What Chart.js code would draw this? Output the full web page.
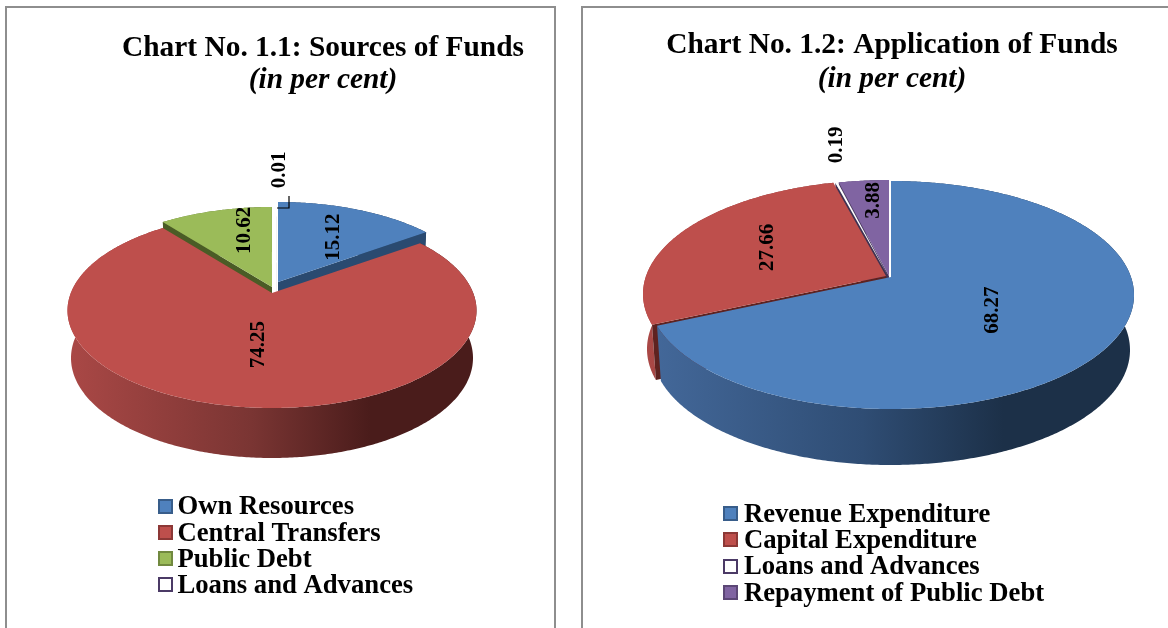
<!DOCTYPE html>
<html><head><meta charset="utf-8">
<style>
html,body{margin:0;padding:0;background:#fff;width:1168px;height:628px;overflow:hidden}
canvas{position:absolute;top:0}
.panel{position:absolute;border:2px solid #8e8e8e;border-bottom:none;box-sizing:border-box}
</style>
<script src="https://cdn.jsdelivr.net/npm/chart.js@4"></script>
</head><body>
<div class="panel" style="left:5px;top:6px;width:551px;height:640px"></div>
<div class="panel" style="left:581px;top:6px;width:640px;height:640px"></div>
<canvas id="c1" width="646" height="628" style="left:0"></canvas>
<canvas id="c2" width="552" height="628" style="left:616px"></canvas>
<script>
// ---- data ----
const sourceCategories = ['Own Resources','Central Transfers','Public Debt','Loans and Advances'];
const sourceValues = [15.12,74.25,10.62,0.01];
const applicationCategories = ['Revenue Expenditure','Capital Expenditure','Loans and Advances','Repayment of Public Debt'];
const applicationValues = [68.27,27.66,0.19,3.88];

// ---- styling ----
const FONT = '"Liberation Serif","Times New Roman",serif';
const blue={top:'#4F81BD',edge:'#385D8A',side:'#2A4A70',wall:['#44699B','#2F4D74','#1C3048']};
const red={top:'#BE4F4C',edge:'#8C3836',side:'#5E2220',wall:['#AA4846','#7A3533','#4A1C1B']};
const green={top:'#9BBB59',edge:'#71893F',side:'#4A5C26',wall:['#7A9446','#5A6E33','#3E4D22']};
const purple={top:'#8064A2',edge:'#5C4776',side:'#4A3A60',wall:['#6A5388','#4F3E66','#3A2D4B']};
const hollow={top:'#FFFFFF',edge:'#4B3A66',side:'#3F3151',wall:['#FFFFFF','#FFFFFF','#FFFFFF']};

const config1={
  canvasLeft:0,
  top:{cx:272,cy:304.5,rx:204.5,ry:97.5,d:-0.18},
  low:{cx:272,cy:352,rx:201,ry:100,d:-0.18},
  looks:[blue,red,green,hollow],
  shiftX:[6,0,0,5], shiftY:[-5,6,0,-2],
  paintOrder:[3,0,2,1],
  nudgeX:[5,6,9,3], nudgeY:[1,-11,-8,-64],
  leader:[[277,208],[289,208],[289,196]],
  titlePad:{top:34,bottom:2},
  legendX:158, legendY:[499,525,551,577], legendTop:494.5, legendLeft:158.5
};
const config2={
  canvasLeft:616,
  top:{cx:887,cy:294,rx:243,ry:114,d:-0.158},
  low:{cx:887,cy:349,rx:239,ry:115,d:-0.158},
  looks:[blue,red,hollow,purple],
  shiftX:[4,-1,1,2], shiftY:[1,0,0,0],
  paintOrder:[3,2,1,0],
  nudgeX:[-26,6,-19,1], nudgeY:[-5,-1,-72,-15],
  leader:null,
  titlePad:{top:31,bottom:4},
  legendX:723, legendY:[506,532,559,585], legendTop:502, legendLeft:725
};

function project(g,theta,r,ox,oy){
  const x=r*Math.sin(theta), y=-r*Math.cos(theta), den=1+g.d*y, s=Math.sqrt(1-g.d*g.d);
  return [g.cx+g.rx*s*x/den+ox, g.cy+g.ry*(y+g.d)/den+oy];
}
function trace(ctx,pts){ctx.beginPath();pts.forEach((p,i)=>i?ctx.lineTo(p[0],p[1]):ctx.moveTo(p[0],p[1]));ctx.closePath();}
function rimPoints(g,a,b,ox,oy){
  const n=Math.max(2,Math.ceil((b-a)/0.01)),out=[];
  for(let i=0;i<=n;i++)out.push(project(g,a+(b-a)*i/n,1,ox,oy));
  return out;
}

const pie3d={
  id:'pie3d',
  beforeDatasetDraw(){return false;},
  afterDatasetsDraw(chart,args,cfg){
    const ctx=chart.ctx, arcs=chart.getDatasetMeta(0).data, vals=chart.data.datasets[0].data;
    ctx.save();ctx.translate(-cfg.canvasLeft,0);
    cfg.paintOrder.forEach(i=>{
      const a=arcs[i].startAngle+Math.PI/2,b=arcs[i].endAngle+Math.PI/2,ox=cfg.shiftX[i],oy=cfg.shiftY[i],k=cfg.looks[i];
      const ct=project(cfg.top,0,0,ox,oy),cl=project(cfg.low,0,0,ox,oy);
      // curved wall
      const up=rimPoints(cfg.top,a,b,ox,oy),dn=rimPoints(cfg.low,a,b,ox,oy).reverse();
      const g=ctx.createLinearGradient(cfg.top.cx-cfg.top.rx,0,cfg.top.cx+cfg.top.rx,0);
      g.addColorStop(0,k.wall[0]);g.addColorStop(0.45,k.wall[1]);g.addColorStop(0.74,k.wall[2]);g.addColorStop(1,k.wall[2]);
      trace(ctx,up.concat(dn));ctx.fillStyle=g;ctx.fill();
      // radial side faces that turn towards the viewer
      [[a,Math.sin(a)<0],[b,Math.sin(b)>0]].forEach(([t,visible])=>{
        if(!visible)return;
        trace(ctx,[ct,project(cfg.top,t,1,ox,oy),project(cfg.low,t,1,ox,oy),cl]);
        ctx.fillStyle=k.side;ctx.fill();
      });
      // top face
      trace(ctx,[ct].concat(up));
      ctx.fillStyle=k.top;ctx.fill();
      if(k===hollow){ctx.strokeStyle=k.edge;ctx.lineWidth=1;ctx.stroke();}
    });
    // value labels
    ctx.fillStyle='#000';ctx.font='bold 21px '+FONT;ctx.textAlign='center';ctx.textBaseline='middle';
    vals.forEach((v,i)=>{
      const mid=(arcs[i].startAngle+arcs[i].endAngle)/2+Math.PI/2;
      const p=project(cfg.top,mid,0.6,cfg.shiftX[i]+cfg.nudgeX[i],cfg.shiftY[i]+cfg.nudgeY[i]);
      ctx.save();ctx.translate(p[0],p[1]);ctx.rotate(-Math.PI/2);ctx.fillText(v.toFixed(2),0,0);ctx.restore();
    });
    if(cfg.leader){
      ctx.strokeStyle='#000';ctx.lineWidth=1.2;ctx.beginPath();
      cfg.leader.forEach((p,i)=>i?ctx.lineTo(p[0],p[1]):ctx.moveTo(p[0],p[1]));ctx.stroke();
    }
    ctx.restore();
  },
  afterLayout(chart,args,cfg){
    // move the library's legend under the pie
    const L=chart.legend;
    L.left=cfg.legendLeft-cfg.canvasLeft;
    L.width=chart.width-L.left;
    L.right=chart.width;
    L.top=cfg.legendTop;
    L.bottom=L.top+L.height;
  },
  afterDraw(chart,args,cfg){
    const ctx=chart.ctx;ctx.save();ctx.translate(-cfg.canvasLeft,0);
    cfg.looks.forEach((k,i)=>{
      ctx.fillStyle=k.top;ctx.strokeStyle=k.edge;ctx.lineWidth=2;
      ctx.fillRect(cfg.legendX+1,cfg.legendY[i]+1,13,13);
      ctx.strokeRect(cfg.legendX+1,cfg.legendY[i]+1,13,13);
    });
    ctx.restore();
  }
};

function build(id,cats,vals,cfg,title){
  new Chart(document.getElementById(id),{
    type:'pie',
    data:{labels:cats,datasets:[{data:vals,
      backgroundColor:cfg.looks.map(k=>k.top),
      borderColor:cfg.looks.map(k=>k.edge),borderWidth:0}]},
    options:{
      responsive:false,animation:false,
      events:[],
      layout:{padding:0},
      plugins:{
        pie3d:cfg,
        tooltip:{enabled:false},
        title:{display:true,text:title,color:'#000',font:{family:FONT,size:29.4,weight:'bold',lineHeight:1},padding:cfg.titlePad},
        subtitle:{display:true,text:'(in per cent)',color:'#000',font:{family:FONT,size:29.4,style:'italic',weight:'bold',lineHeight:1},padding:0},
        legend:{display:true,position:'left',align:'start',
          labels:{boxWidth:6,boxHeight:6,color:'#000',padding:-0.45,font:{family:FONT,size:26.7,weight:'bold',lineHeight:0.95}}}
      }
    },
    plugins:[pie3d]
  });
}
build('c1',sourceCategories,sourceValues,config1,'Chart No. 1.1: Sources of Funds');
build('c2',applicationCategories,applicationValues,config2,'Chart No. 1.2: Application of Funds');
</script>
</body></html>
